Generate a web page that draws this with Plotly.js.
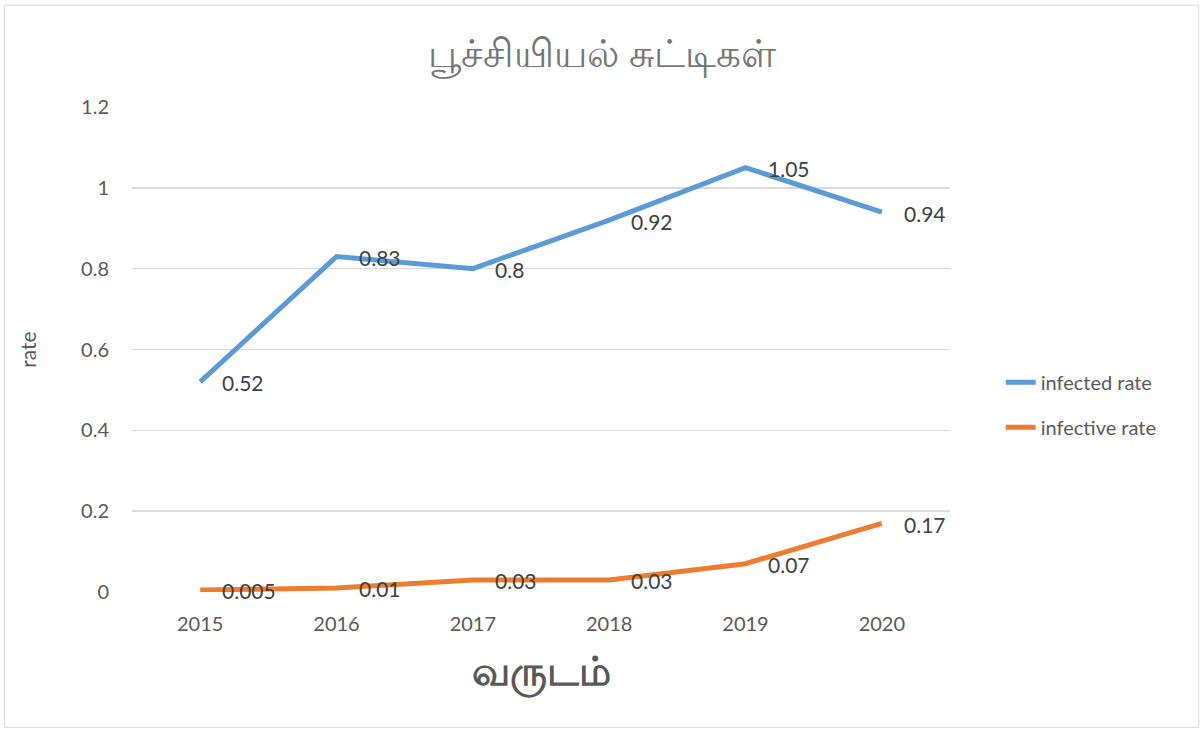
<!DOCTYPE html>
<html>
<head>
<meta charset="utf-8">
<script src="https://cdn.plot.ly/plotly-3.0.1.min.js"></script>
<style>html,body{margin:0;padding:0;background:#fff;}#chart{width:1204px;height:733px;}</style>
</head>
<body>
<div id="chart"></div>
<script>
const years = ['2015', '2016', '2017', '2018', '2019', '2020'];
const infectedRate = [0.52, 0.83, 0.8, 0.92, 1.05, 0.94];
const infectiveRate = [0.005, 0.01, 0.03, 0.03, 0.07, 0.17];
const infectedLabels = ['0.52', '0.83', '0.8', '0.92', '1.05', '0.94'];
const infectiveLabels = ['0.005', '0.01', '0.03', '0.03', '0.07', '0.17'];
const yTicks = [0, 0.2, 0.4, 0.6, 0.8, 1, 1.2];
const yTickText = ['0', '0.2', '0.4', '0.6', '0.8', '1', '1.2'];

const font = 'Lato, "Open Sans", "Noto Sans", sans-serif';
const labelFont = {family: font, size: 21, color: '#404040'};

const traces = [
  {x: years, y: infectedRate, name: 'infected rate', type: 'scatter', mode: 'lines',
   line: {color: '#5B9BD5', width: 5}, legendgroup: 'a'},
  {x: years, y: infectiveRate, name: 'infective rate', type: 'scatter', mode: 'lines',
   line: {color: '#ED7D31', width: 5}, legendgroup: 'b'}
];

const annotations = [];
function addLabels(vals, labels) {
  vals.forEach((v, i) => {
    // category axis: annotation x is the category's index
    annotations.push({x: i, y: v, xref: 'x', yref: 'y', text: labels[i],
      showarrow: false, xanchor: 'left', yanchor: 'middle', xshift: 20, yshift: -1,
      font: labelFont});
  });
}
addLabels(infectedRate, infectedLabels);
addLabels(infectiveRate, infectiveLabels);

const layout = {
  width: 1204, height: 733,
  margin: {l: 132, r: 254, t: 107, b: 141},
  paper_bgcolor: '#fff', plot_bgcolor: '#fff',
  title: {text: 'பூச்சியியல் சுட்டிகள்', font: {family: font, size: 39, color: '#757575'},
          x: 0.5, xref: 'container', xanchor: 'center', y: 55, yref: 'container', yanchor: 'middle'},
  xaxis: {type: 'category', range: [-0.5, 5.5], showgrid: false, zeroline: false, showline: false, ticks: '',
          ticklabelstandoff: 18,
          tickfont: {family: font, size: 20, color: '#595959'},
          title: {text: '<b>வருடம்</b>', font: {family: font, size: 40, color: '#595959'}, standoff: 22}},
  yaxis: {range: [0, 1.2], tickvals: yTicks, ticktext: yTickText, showgrid: true,
          gridcolor: '#D9D9D9', gridwidth: 1.5, zeroline: false, showline: false, ticks: '',
          ticklabelstandoff: 22, tickfont: {family: font, size: 20, color: '#595959'},
          title: {text: 'rate', font: {family: font, size: 21, color: '#595959'}, standoff: 38}},
  showlegend: true,
  legend: {x: 1.062, y: 0.386, xanchor: 'left', yanchor: 'middle',
           font: {family: font, size: 20, color: '#595959'}, tracegroupgap: 16},
  annotations: annotations,
  shapes: [{type: 'rect', xref: 'paper', yref: 'paper', x0: -0.156, x1: 1.304, y0: -0.279, y1: 1.21,
            line: {color: '#D9D9D9', width: 1}}]
};

Plotly.newPlot('chart', traces, layout, {displayModeBar: false, staticPlot: true});
</script>
</body>
</html>
